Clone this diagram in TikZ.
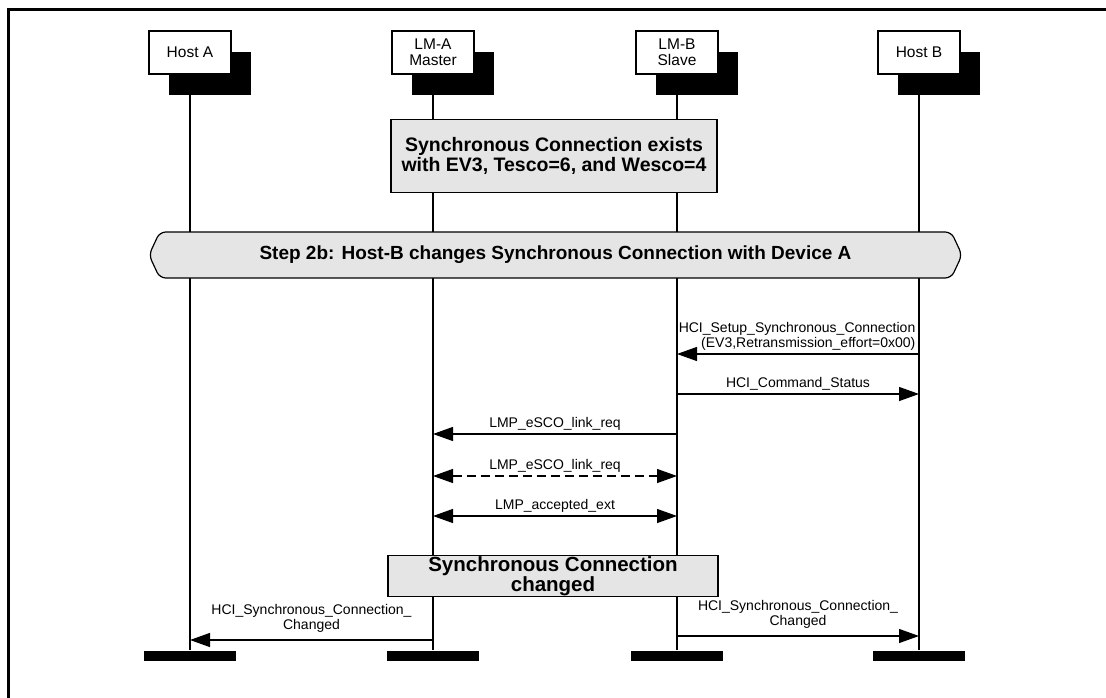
\documentclass[tikz,border=0pt]{standalone}
\usepackage{fontspec}
\setmainfont{Liberation Sans}
\usetikzlibrary{arrows.meta, positioning, shadows, shapes.symbols, backgrounds}

\begin{document}
\begin{tikzpicture}[x=1pt, y=-1pt,
  actor/.style={draw, line width=1.2pt, fill=white, minimum width=82pt,
                minimum height=43pt, inner sep=1pt, align=center,
                font=\fontsize{15.5}{16}\selectfont,
                drop shadow={shadow xshift=20pt, shadow yshift=-21pt,
                             fill=black, opacity=1}},
  endbar/.style={fill=black, minimum width=92pt, minimum height=10pt, inner sep=0pt},
  life/.style={line width=1.4pt},
  note/.style={draw, line width=1.6pt, fill=black!10, align=center,
               font=\fontsize{19.5}{20}\selectfont\bfseries},
  banner/.style={draw, line width=1.2pt, fill=black!10, shape=signal,
                 signal to=west and east, signal pointer angle=130,
                 rounded corners=6pt, minimum width=813pt, minimum height=46pt,
                 font=\fontsize{19}{20}\selectfont\bfseries},
  msg/.style={line width=1.3pt, -{Triangle[length=20pt, width=14pt]}},
  both/.style={line width=1.3pt, {Triangle[length=20pt, width=14pt]}-{Triangle[length=20pt, width=14pt]}},
  lbl/.style={font=\fontsize{14}{15}\selectfont, inner sep=3pt},
]
  \useasboundingbox (0,0) rectangle (1106,698);
  % frame
  \draw[line width=3pt] (1106,9.7) -- (8.5,9.7) -- (8.5,698);

  % actors
  \node[actor] (ha) at (190,52.5) {Host A};
  \node[actor] (la) at (433,52.5) {LM-A\\Master};
  \node[actor] (lb) at (677,52.5) {LM-B\\Slave};
  \node[actor] (hb) at (919,52.5) {Host B};

  \node[endbar] (ea) at (190,655.5) {};
  \node[endbar] (eb) at (433,655.5) {};
  \node[endbar] (ec) at (677,655.5) {};
  \node[endbar] (ed) at (919,655.5) {};

  \begin{scope}[on background layer]
    \draw[life] (ha) -- (ea);
    \draw[life] (la) -- (eb);
    \draw[life] (lb) -- (ec);
    \draw[life] (hb) -- (ed);
  \end{scope}

  \node[note, minimum width=326pt, minimum height=73pt] (exists) at (554,156)
    {Synchronous Connection exists\\with EV3, Tesco=6, and Wesco=4};
  \node[banner] (step) at (555.5,255)
    {Step 2b: Host-B changes Synchronous Connection with Device A};

  % message rows
  \coordinate (r1) at (0,354);
  \coordinate (r2) at (0,394);
  \coordinate (r3) at (0,434);
  \coordinate (r4) at (0,476);
  \coordinate (r5) at (0,516);
  \coordinate (r6) at (0,640);
  \coordinate (r7) at (0,636);

  \draw[msg] (hb |- r1) -- (lb |- r1)
    node[lbl, at start, above left, align=right]
    {HCI\_Setup\_Synchronous\_Connection\\(EV3,Retransmission\_effort=0x00)};
  \draw[msg] (lb |- r2) -- (hb |- r2) node[lbl, midway, above] {HCI\_Command\_Status};
  \draw[msg] (lb |- r3) -- (la |- r3) node[lbl, midway, above] {LMP\_eSCO\_link\_req};
  \draw[both, dash pattern=on 9pt off 5pt] (la |- r4) -- (lb |- r4)
    node[lbl, midway, above] {LMP\_eSCO\_link\_req};
  \draw[both] (la |- r5) -- (lb |- r5) node[lbl, midway, above] {LMP\_accepted\_ext};

  \node[note, minimum width=330pt, minimum height=40pt, inner sep=1pt,
        font=\fontsize{20.5}{19}\selectfont\bfseries] (changed) at (553,576)
    {Synchronous Connection\\changed};

  \draw[msg] (la |- r6) -- (ha |- r6)
    node[lbl, midway, above, align=center, yshift=4pt] {HCI\_Synchronous\_Connection\_\\Changed};
  \draw[msg] (lb |- r7) -- (hb |- r7)
    node[lbl, midway, above, align=center, yshift=4pt] {HCI\_Synchronous\_Connection\_\\Changed};
\end{tikzpicture}
\end{document}
